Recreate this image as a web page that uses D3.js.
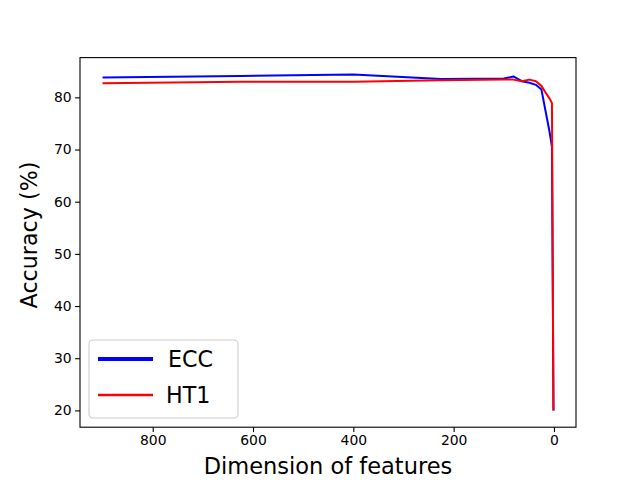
<!DOCTYPE html>
<html>
<head>
<meta charset="utf-8">
<script src="https://cdn.jsdelivr.net/npm/d3@7"></script>
<style>
  body { margin: 0; background: #fff; }
  svg { display: block; font-family: "DejaVu Sans", sans-serif; }
</style>
</head>
<body>
<div id="chart"></div>
<script>
const dims = [900, 625, 400, 225, 100, 81, 64, 49, 36, 25, 16, 9, 4, 1];
const eccValues = [83.8, 84.1, 84.4, 83.5, 83.6, 84.0, 83.1, 82.8, 82.4, 81.5, 77.0, 73.5, 70.5, 20.0];
const ht1Values = [82.7, 83.0, 83.0, 83.3, 83.4, 83.4, 83.1, 83.4, 83.1, 82.2, 80.8, 79.8, 78.9, 20.0];
const xTicks = [800, 600, 400, 200, 0];
const yTicks = [20, 30, 40, 50, 60, 70, 80];
const seriesNames = ["ECC", "HT1"];
const seriesColors = ["#0000ff", "#ff0000"];
const xLabel = "Dimension of features";
const yLabel = "Accuracy (%)";

const W = 640, H = 480;
const m = { left: 80, right: 576, top: 57.6, bottom: 427.2 };

const svg = d3.select("#chart").append("svg").attr("width", W).attr("height", H);

// matplotlib 5% margins
const xmin = d3.min(dims), xmax = d3.max(dims);
const xpad = (xmax - xmin) * 0.05;
const allY = eccValues.concat(ht1Values);
const ymin = d3.min(allY), ymax = d3.max(allY);
const ypad = (ymax - ymin) * 0.05;

const x = d3.scaleLinear().domain([xmax + xpad, xmin - xpad]).range([m.left, m.right]);
const y = d3.scaleLinear().domain([ymin - ypad, ymax + ypad]).range([m.bottom, m.top]);

const line = d3.line().x(d => x(d[0])).y(d => y(d[1]));

const series = [eccValues, ht1Values];
series.forEach((vals, i) => {
  svg.append("path")
    .datum(dims.map((d, j) => [d, vals[j]]))
    .attr("d", line)
    .attr("fill", "none")
    .attr("stroke", seriesColors[i])
    .attr("stroke-width", 2)
    .attr("stroke-linejoin", "round")
    .attr("stroke-linecap", "butt");
});

// axes
const xAxis = d3.axisBottom(x).tickValues(xTicks).tickSize(4.9).tickPadding(3.5);
const yAxis = d3.axisLeft(y).tickValues(yTicks).tickSize(4.9).tickPadding(3.5);

const gx = svg.append("g").attr("transform", `translate(0,${m.bottom})`).call(xAxis);
const gy = svg.append("g").attr("transform", `translate(${m.left},0)`).call(yAxis);
[gx, gy].forEach(g => {
  g.select(".domain").remove();
  g.selectAll("line").attr("stroke", "#000").attr("stroke-width", 1.1);
  g.selectAll("text").attr("font-size", "13.9px").attr("fill", "#000")
    .attr("font-family", "DejaVu Sans, sans-serif");
});

// frame
svg.append("rect")
  .attr("x", m.left).attr("y", m.top)
  .attr("width", m.right - m.left).attr("height", m.bottom - m.top)
  .attr("fill", "none").attr("stroke", "#000").attr("stroke-width", 1.1);

// axis labels
svg.append("text")
  .attr("x", (m.left + m.right) / 2).attr("y", 474.3)
  .attr("text-anchor", "middle").attr("font-size", "22.5px").attr("fill", "#000")
  .text(xLabel);

svg.append("text")
  .attr("transform", `translate(36.5,235) rotate(-90)`)
  .attr("text-anchor", "middle").attr("font-size", "22.2px").attr("fill", "#000")
  .text(yLabel);

// legend
const lg = svg.append("g");
lg.append("rect")
  .attr("x", 89).attr("y", 340).attr("width", 149).attr("height", 78)
  .attr("rx", 4).attr("ry", 4)
  .attr("fill", "#fff").attr("fill-opacity", 0.8)
  .attr("stroke", "#cccccc").attr("stroke-width", 1.1);
const legendWidths = [3.8, 2.6];
seriesNames.forEach((name, i) => {
  const cy = 359 + i * 36;
  lg.append("line")
    .attr("x1", 98).attr("x2", 153).attr("y1", cy).attr("y2", cy)
    .attr("stroke", seriesColors[i]).attr("stroke-width", legendWidths[i]);
  lg.append("text")
    .attr("x", i === 0 ? 168 : 166).attr("y", cy + 8)
    .attr("font-size", "22.2px").attr("fill", "#000")
    .text(name);
});
</script>
</body>
</html>
